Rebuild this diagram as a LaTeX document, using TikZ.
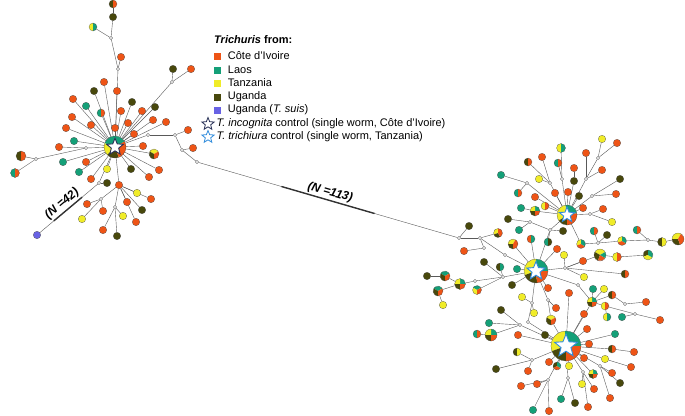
\documentclass[tikz,border=0pt]{standalone}
\usepackage{fontspec}
\setmainfont{Liberation Sans}
\usetikzlibrary{shapes.geometric, positioning}
\pgfdeclarelayer{bg}
\pgfsetlayers{bg,main}
\definecolor{civ}{RGB}{238,84,22}
\definecolor{laos}{RGB}{20,160,120}
\definecolor{tanz}{RGB}{240,236,40}
\definecolor{uga}{RGB}{72,72,12}
\definecolor{suis}{RGB}{104,98,228}
\definecolor{starblue}{RGB}{48,140,220}
\definecolor{stardark}{RGB}{40,48,86}

\begin{document}
\begin{tikzpicture}[x=1pt, y=-1pt,
    hap/.style={circle, draw=gray!55!black, line width=0.2pt, inner sep=0pt, minimum size=7.5pt}, % one haplotype
    ci/.style={hap, fill=civ},
    la/.style={hap, fill=laos},
    tz/.style={hap, fill=tanz},
    ug/.style={hap, fill=uga},
    su/.style={hap, fill=suis},
    mv/.style={circle, draw=gray!70!black, fill=white, line width=0.3pt, inner sep=0pt, minimum size=3.2pt}, % median vector
    link/.style={draw=gray!70!black, line width=0.4pt},
    bridge/.style={draw=gray!40!black, line width=1.4pt},
    nlabel/.style={font=\bfseries\itshape\fontsize{12}{14}\selectfont, sloped, above=2pt, inner sep=0pt},
    legbox/.style={minimum size=7pt, inner sep=0pt},
    legtext/.style={font=\fontsize{11}{13}\selectfont, inner sep=0pt, anchor=west},
    legstar/.style={star, star points=5, star point ratio=2.3, fill=white, line width=0.8pt, minimum size=13pt, inner sep=0pt},
    hubstar/.style={star, star points=5, star point ratio=2.3, fill=white, line width=0.9pt, inner sep=0pt}
    ]
\useasboundingbox (0,0) rectangle (685,415);

% hubs with control worms
\foreach \nm/\x/\y/\rad/\w/\sc in {
    L/115/147/11/{30/160/laos,160/225/tanz,225/290/uga,290/390/civ}/stardark,
    R1/567/215/10/{10/100/laos,100/215/tanz,215/270/uga,270/370/civ}/starblue,
    R2/536/271/12/{0/90/laos,90/200/tanz,200/275/uga,275/360/civ}/starblue,
    R3/566/346/15/{0/95/laos,95/200/tanz,200/270/uga,270/360/civ}/starblue} {
  \node[hap, draw=none, minimum size=2*\rad*1pt] (\nm) at (\x,\y) {};
  \foreach \sa/\ea/\col in \w
    \fill[\col] (\nm.center) -- ++(\sa:\rad pt) arc[start angle=\sa, end angle=\ea, radius=\rad pt] -- cycle;
  \draw[gray!55!black, line width=0.2pt] (\nm.center) circle[radius=\rad pt];
  \node[hubstar, draw=\sc, minimum size=1.6*\rad*1pt] at (\nm) {};
}

% single haplotypes and median vectors: name/x/y/style/parent
\def\haps{%
  t1/118/69/mv/L, lt1/121/57/ci/t1, t2/111/38/mv/t1, lt2/113/17/ug/t2,
  u1/172/82/mv/L, lu1/173/69/ug/u1, lu2/191/69/ci/u1,
  e1/148/135/mv/L, e2/175/135/mv/e1, le1/188/130/ci/e2, e3/182/150/mv/e2, le2/193/148/ci/e3, b1/197/162/mv/e3,
  w1/86/148/mv/L, w2/36/159/mv/w1, lw1/59/147/ci/w1,
  s0/99/183/mv/L, lsu/37/235/su/s0, ls0/107/183/ug/s0,
  sub/119/185/ci/L, s1/115/207/mv/sub, s2/101/199/mv/sub,
  lb1/137/193/tz/sub, lb2/151/199/ci/sub, lb3/127/202/ci/sub, lb4/142/210/ug/sub, lb5/136/222/ci/sub,
  lb6/123/216/tz/s1, lb7/103/230/ci/s1, lb8/117/236/ug/s1, lb9/87/204/ci/s2, lb10/103/211/ci/s2, lb11/82/219/tz/s2,
  l1/104/82/ci/L, l2/117/91/ci/L, l3/94/91/ug/L, l4/73/99/ci/L, l5/86/106/la/L, l6/132/102/ug/L,
  l7/121/111/ci/L, l8/142/111/ci/L, l9/155/107/ug/L, l10/153/120/ci/L, l11/166/122/ci/L, l12/72/117/ci/L,
  l13/91/125/ci/L, l14/66/128/ci/L, l15/115/128/ci/L, l16/128/123/ci/L, l17/134/134/ci/L, l18/143/146/ci/L,
  l19/74/141/la/L, l20/63/162/la/L, l21/79/172/la/L, l22/86/162/ci/L, l23/91/179/ci/L, l24/107/169/tz/L,
  l25/131/169/ug/L, l26/149/177/ci/L, l27/159/170/ci/L,
  bR/459/238/mv/b1, E1/480/238/mv/bR, r1/469/226/ug/bR, E2/484/248/mv/E1, r2/464/251/ci/E2, E3/505/255/mv/E1,
  W1/503/277/mv/R2, W2/475/281/mv/W1, r3/484/262/ug/W1, r4/517/269/la/R2, r5/427/276/ug/pW2, r6/443/305/tz/pW3,
  r7/512/285/ug/R2, r8/548/288/ci/R2, M1/550/230/mv/R2, r9/563/231/ug/M1, r10/557/249/ci/R2,
  C1/565/268/mv/R2, r11/564/255/tz/C1, r12/583/261/ci/C1, r13/584/277/tz/C1,
  M2/530/222/mv/M1, r14/508/219/ug/M2, r15/519/230/la/M2,
  M4/527/183/mv/R1, r18/501/175/la/M4, r16/521/208/la/pLb, r17/535/197/ci/R1,
  T1/550/183/mv/R1, r19/542/157/ci/T1, r20/539/179/tz/T1, T2/562/179/mv/R1,
  r21/574/181/ug/R1, r22/574/168/ci/r21,
  T4/586/179/mv/R1, r23/586/153/ci/T4, T5/598/158/mv/T4, r24/602/139/tz/T5, r25/617/143/ci/T5, r26/602/170/ci/T4,
  T6/592/196/mv/R1, r27/620/179/ug/T6, r28/616/194/ci/T6, r29/579/196/ug/R1,
  r30/583/208/ci/R1, T7/590/214/mv/R1, r31/603/209/ci/T7, r32/612/222/tz/T7,
  r71/555/193/ci/R1, r72/568/192/ci/R1,
  K1/598/243/mv/pA, r33/607/235/ug/K1, K2/648/240/mv/pAb,
  D1/548/300/mv/R2, D2/532/303/mv/R2, D3/528/322/mv/D2,
  r34/522/297/tz/D2, r35/556/308/ci/D1, r36/534/313/tz/D2, r37/569/293/ci/R3,
  Q1/578/285/mv/R2, r38/593/289/la/pQ, r39/604/289/tz/pQ, Q2/625/304/mv/pQa, r40/646/302/ci/Q2,
  Q3/635/314/mv/pQb, r41/622/317/la/Q3, r42/660/320/ci/Q3,
  r43/584/314/ci/R3, r44/587/329/ci/R3, r45/615/334/la/R3, r46/589/344/ci/R3, r47/634/352/ci/pS,
  r48/605/359/tz/R3, r49/631/367/ci/r48,
  L1/520/325/mv/R3, r50/501/310/ug/L1, r51/489/323/la/L1, r52/518/335/ci/R3, r53/545/335/ug/R3,
  L2/532/360/mv/R3, r54/496/369/ug/L2, r55/528/371/ci/L2,
  B1/548/380/mv/R3, r56/533/410/la/B1, r57/549/411/ci/B1, r58/521/386/ci/B1, r59/537/384/ci/B1,
  B2/568/378/mv/R3, r60/561/399/la/B2, r61/575/403/ug/B2,
  B3/583/372/mv/R3, r62/582/384/tz/B3, r63/588/407/ci/B3, r64/594/389/ci/B3,
  B4/600/366/mv/R3, r65/610/398/ci/B4, r66/620/383/ug/B4, r67/612/373/ci/B4,
  r68/549/362/ci/R3, r69/569/366/tz/R3, r70/584/358/ci/R3}

% mixed haplotypes: name/x/y/radius/wedges/parent
\def\pies{%
  p1/113/4/4/{90/270/uga,270/450/civ}/lt2,
  p2/93/27/4/{90/270/tanz,270/450/laos}/t2,
  p3/101/113/4/{90/270/laos,270/450/civ}/L,
  p4/154/154/5/{30/150/tanz,150/270/uga,270/390/civ}/L,
  p5/21/156/5/{90/270/uga,270/450/civ}/w2,
  p6/15/173/4.5/{90/270/laos,270/450/civ}/w2,
  pTa/561/148/4.5/{90/270/tanz,270/450/laos}/T2,
  pTb/558/163/4/{90/270/laos,270/450/civ}/T2,
  pTc/528/162/4/{90/270/uga,270/450/civ}/T1,
  pLa/518/193/4/{90/270/laos,270/450/civ}/M4,
  pLb/535/211/5/{0/90/laos,90/180/tanz,180/270/uga,270/360/civ}/R1,
  pLc/545/206/4/{90/270/tanz,270/450/civ}/R1,
  pE/498/233/4.5/{90/200/tanz,200/300/uga,300/450/civ}/E1,
  pMa/513/244/5/{60/180/tanz,180/270/uga,270/420/civ}/R2,
  pMb/531/239/4/{90/270/civ,270/450/laos}/R2,
  pMc/548/242/4/{90/270/laos,270/450/uga}/M1,
  pMd/500/267/4/{90/270/uga,270/450/laos}/W1,
  pA/581/244/4.5/{90/200/tanz,200/330/civ,330/450/laos}/R1,
  pAa/594/231/4/{90/270/laos,270/450/civ}/K1,
  pAb/622/241/4.5/{90/200/tanz,200/330/civ,330/450/laos}/K1,
  pAc/637/230/4/{90/270/laos,270/450/civ}/K2,
  pAd/662/242/4.5/{90/270/uga,270/450/tanz}/K2,
  pAe/678/239/6/{60/180/tanz,180/290/uga,290/420/civ}/pAd,
  pB/600/255/6/{30/150/tanz,150/250/uga,250/330/civ,330/390/laos}/C1,
  pBa/617/257/4.5/{90/270/tanz,270/450/civ}/pB,
  pBb/648/255/5/{90/200/uga,200/330/tanz,330/450/laos}/pBa,
  pBc/625/274/4/{90/270/uga,270/450/civ}/C1,
  pW1/460/284/5.5/{0/90/laos,90/180/tanz,180/270/uga,270/360/civ}/W2,
  pW2/445/276/5/{30/150/laos,150/270/uga,270/390/civ}/pW1,
  pW3/438/291/5/{30/150/laos,150/270/uga,270/390/civ}/pW1,
  pW4/477/290/4.5/{30/150/laos,150/270/tanz,270/390/civ}/W1,
  pD/551/320/5/{30/150/tanz,150/270/uga,270/390/civ}/D1,
  pQ/592/302/5/{0/90/laos,90/180/tanz,180/270/uga,270/360/civ}/Q1,
  pQa/612/295/4/{90/270/uga,270/450/civ}/pQ,
  pQb/605/306/4/{90/270/tanz,270/450/civ}/pQ,
  pQc/607/317/4/{90/270/tanz,270/450/laos}/pQb,
  pS/612/349/4/{90/270/uga,270/450/civ}/R3,
  pL1/491/335/6/{0/90/laos,90/180/tanz,180/270/uga,270/360/civ}/L1,
  pL2/477/334/4/{90/270/laos,270/450/civ}/pL1,
  pL3/517/352/4/{90/270/uga,270/450/tanz}/L2,
  pF/557/366/4/{90/210/uga,210/330/civ,330/450/laos}/R3,
  pG/593/374/4.5/{0/90/laos,90/180/tanz,180/270/uga,270/360/civ}/R3}

\foreach \nm/\x/\y/\st/\up in \haps
  \node[\st] (\nm) at (\x,\y) {};

\foreach \nm/\x/\y/\rad/\w/\up in \pies {
  \node[hap, draw=none, minimum size=2*\rad*1pt] (\nm) at (\x,\y) {};
  \foreach \sa/\ea/\col in \w
    \fill[\col] (\nm.center) -- ++(\sa:\rad pt) arc[start angle=\sa, end angle=\ea, radius=\rad pt] -- cycle;
  \draw[gray!55!black, line width=0.2pt] (\nm.center) circle[radius=\rad pt];
}

% connectors
\begin{pgfonlayer}{bg}
  \foreach \nm/\x/\y/\st/\up in \haps
    \draw[link] (\nm) -- (\up);
  \foreach \nm/\x/\y/\rad/\w/\up in \pies
    \draw[link] (\nm) -- (\up);
  \foreach \a/\b in {E3/R2, M1/R1, pQ/R3, pD/R3, D3/R3}
    \draw[link] (\a) -- (\b);
  \path (b1) -- (bR) coordinate[pos=0.32] (k1) coordinate[pos=0.68] (k2);
  \draw[bridge] (k1) -- (k2);
  \path (lsu) -- (s0) coordinate[pos=0.24] (k3) coordinate[pos=0.73] (k4);
  \draw[bridge] (k3) -- (k4);
\end{pgfonlayer}

% sample sizes
\path (b1) -- (bR) node[nlabel, pos=0.5] (n113) {(N =113)};
\path (lsu) -- (s0) node[nlabel, pos=0.47] (n42) {(N =42)};

% legend
\node[legtext, font=\bfseries\fontsize{11}{13}\selectfont] (legtitle) at (214,40) {\textit{Trichuris} from:};
\node[legbox, fill=civ] (keyci) at (217,56) {};
\node[legbox, fill=laos] (keyla) at (217,70) {};
\node[legbox, fill=tanz] (keytz) at (217,83) {};
\node[legbox, fill=uga] (keyug) at (217,97) {};
\node[legbox, fill=suis] (keysu) at (217,110) {};
\node[legtext, right=7pt of keyci] {Côte d’Ivoire};
\node[legtext, right=7pt of keyla] {Laos};
\node[legtext, right=7pt of keytz] {Tanzania};
\node[legtext, right=7pt of keyug] {Uganda};
\node[legtext, right=7pt of keysu] {Uganda (\textit{T. suis})};
\node[legstar, draw=stardark] (keyinc) at (208,124) {};
\node[legstar, draw=starblue] (keytri) at (208,137) {};
\node[legtext, right=4pt of keyinc] {\textit{T. incognita} control (single worm, Côte d’Ivoire)};
\node[legtext, right=4pt of keytri] {\textit{T. trichiura} control (single worm, Tanzania)};
\end{tikzpicture}
\end{document}
